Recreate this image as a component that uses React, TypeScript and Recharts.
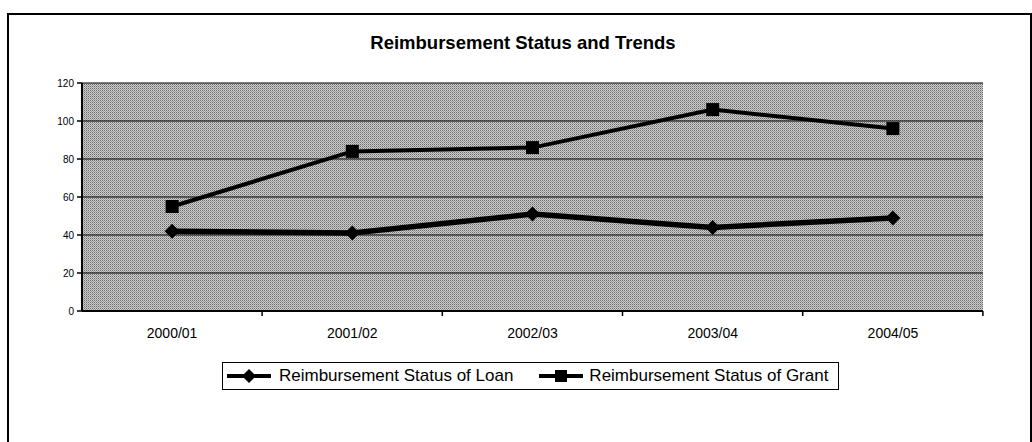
import { LineChart, Line, XAxis, YAxis, CartesianGrid, Legend } from 'recharts';

const periods = ['2000/01', '2001/02', '2002/03', '2003/04', '2004/05'];
const loanStatus = [42, 41, 51, 44, 49];
const grantStatus = [55, 84, 86, 106, 96];
const yTicks = [0, 20, 40, 60, 80, 100, 120];
const loanName = 'Reimbursement Status of Loan';
const grantName = 'Reimbursement Status of Grant';
const chartTitle = 'Reimbursement Status and Trends';

const font = '"Liberation Sans", Arial, sans-serif';

const data = periods.map((period, i) => ({
  period,
  loan: loanStatus[i],
  grant: grantStatus[i],
}));

const Diamond = ({ cx, cy }: any) => (
  <path d={`M${cx} ${cy - 7.5}L${cx + 7.5} ${cy}L${cx} ${cy + 7.5}L${cx - 7.5} ${cy}Z`} fill="#000" />
);

const Square = ({ cx, cy }: any) => (
  <rect x={cx - 6.5} y={cy - 6.5} width={13} height={13} fill="#000" />
);

// label at the band centre, tick mark at the band boundary like Excel does
const PeriodTick = ({ x, y, payload }: any) => (
  <g>
    <line x1={x + 90} x2={x + 90} y1={y} y2={y + 5} stroke="#000" strokeWidth={1.5} />
    <text x={x} y={y + 27} textAnchor="middle" fontSize={14} fontFamily={font} fill="#000">
      {payload.value}
    </text>
  </g>
);

const LegendIcon = ({ marker }: { marker: 'diamond' | 'square' }) => (
  <svg width={44} height={16} style={{ display: 'block' }}>
    <line x1={0} x2={44} y1={8} y2={8} stroke="#000" strokeWidth={4} />
    {marker === 'diamond' ? (
      <path d="M22 1L29 8L22 15L15 8Z" fill="#000" />
    ) : (
      <rect x={16} y={2} width={12} height={12} fill="#000" />
    )}
  </svg>
);

const LegendBox = () => (
  <div
    style={{
      boxSizing: 'border-box',
      width: 617,
      height: 28,
      border: '1px solid #000',
      background: '#fff',
      display: 'flex',
      alignItems: 'center',
      paddingLeft: 4,
      fontFamily: font,
      fontSize: 17,
      color: '#000',
      whiteSpace: 'nowrap',
    }}
  >
    <LegendIcon marker="diamond" />
    <span style={{ marginLeft: 8 }}>{loanName}</span>
    <span style={{ marginLeft: 26 }}>
      <LegendIcon marker="square" />
    </span>
    <span style={{ marginLeft: 6 }}>{grantName}</span>
  </div>
);

export default function App() {
  return (
    <div style={{ position: 'absolute', left: 0, top: 0, width: 1032, height: 442, background: '#fff', overflow: 'hidden' }}>
      <div
        style={{
          position: 'absolute',
          left: 7,
          top: 13,
          width: 1021,
          height: 440,
          borderTop: '2px solid #000',
          borderLeft: '2px solid #000',
          borderRight: '2px solid #000',
        }}
      />
      <div
        style={{
          position: 'absolute',
          left: 0,
          top: 33,
          width: 1046,
          textAlign: 'center',
          fontFamily: font,
          fontWeight: 'bold',
          fontSize: 18.5,
          lineHeight: '20px',
          color: '#000',
        }}
      >
        {chartTitle}
      </div>
      <div style={{ position: 'absolute', left: 0, top: 0 }}>
        <LineChart width={1032} height={442} data={data} margin={{ top: 83, right: 49, bottom: 101, left: 0 }}>
          <defs>
            <pattern id="stipple" width={2} height={2} patternUnits="userSpaceOnUse">
              <rect width={2} height={2} fill="#cecece" />
              <rect x={0} y={0} width={1} height={1} fill="#6a6a6a" />
              <rect x={1} y={1} width={1} height={1} fill="#9a9a9a" />
            </pattern>
          </defs>
          <CartesianGrid fill="url(#stipple)" fillOpacity={1} stroke="#000" strokeWidth={1} vertical={false} />
          <XAxis
            dataKey="period"
            scale="band"
            height={30}
            tickSize={0}
            tickMargin={0}
            tickLine={false}
            tick={<PeriodTick />}
            axisLine={{ stroke: '#000', strokeWidth: 2 }}
            interval={0}
          />
          <XAxis
            xAxisId="top"
            dataKey="period"
            scale="band"
            orientation="top"
            height={0}
            tick={false}
            tickLine={false}
            axisLine={{ stroke: '#000', strokeWidth: 2 }}
          />
          <YAxis
            width={82}
            domain={[0, 120]}
            ticks={yTicks}
            interval={0}
            tickSize={5}
            tickMargin={3}
            tick={{ fontSize: 10, fill: '#000', fontFamily: font }}
            tickLine={{ stroke: '#000', strokeWidth: 1.5 }}
            axisLine={{ stroke: '#000', strokeWidth: 2 }}
          />
          <YAxis
            yAxisId="right"
            orientation="right"
            width={0}
            domain={[0, 120]}
            tick={false}
            tickLine={false}
            axisLine={{ stroke: '#000', strokeWidth: 2 }}
          />
          <Legend
            layout="horizontal"
            verticalAlign="middle"
            align="center"
            content={<LegendBox />}
            wrapperStyle={{ position: 'absolute', left: 222, top: 362, width: 617, height: 28 }}
          />
          <Line
            type="linear"
            dataKey="loan"
            name={loanName}
            stroke="#000"
            strokeWidth={5.5}
            dot={(p: any) => <Diamond key={`loan-${p.index}`} cx={p.cx} cy={p.cy} />}
            isAnimationActive={false}
          />
          <Line
            type="linear"
            dataKey="grant"
            name={grantName}
            stroke="#000"
            strokeWidth={4}
            dot={(p: any) => <Square key={`grant-${p.index}`} cx={p.cx} cy={p.cy} />}
            isAnimationActive={false}
          />
        </LineChart>
      </div>
    </div>
  );
}
